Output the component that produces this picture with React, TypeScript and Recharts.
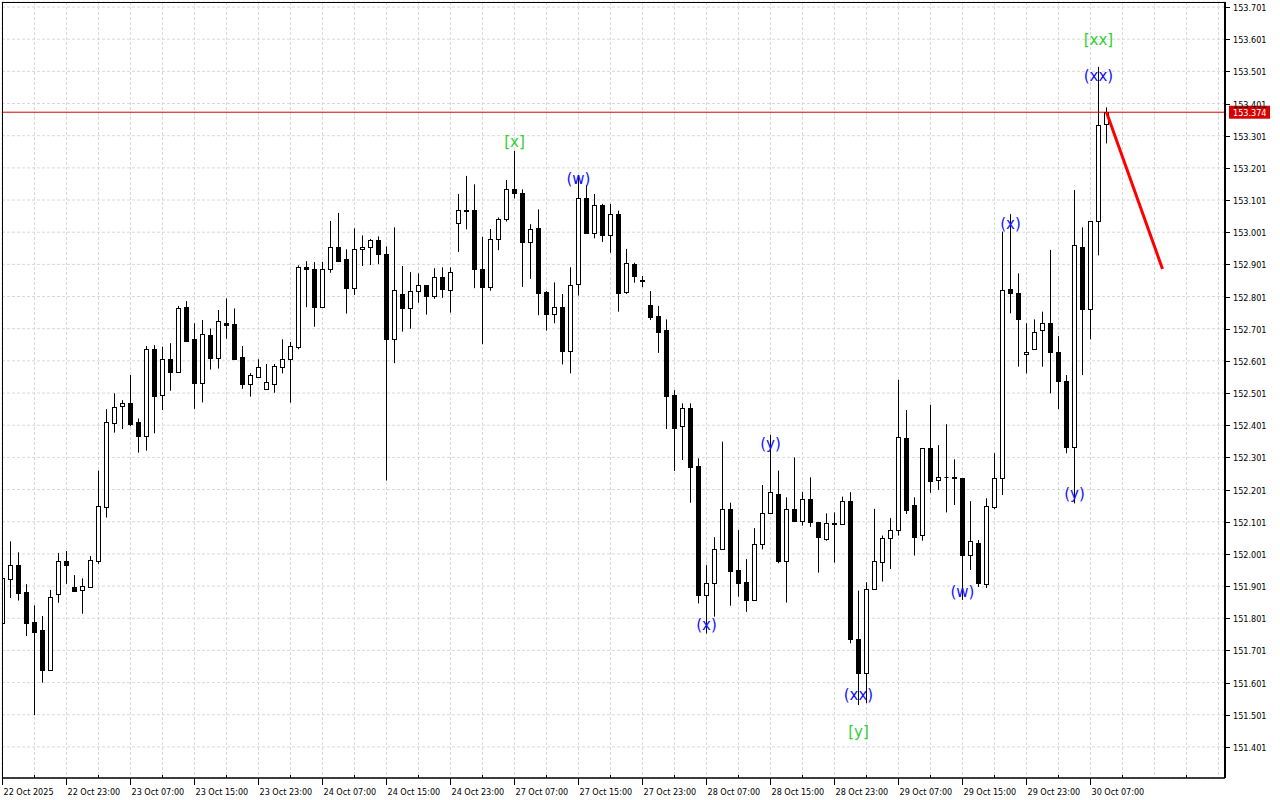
import {
  Bar,
  CartesianGrid,
  ComposedChart,
  ReferenceDot,
  ReferenceLine,
  XAxis,
  YAxis,
} from "recharts";

// H1 candles, 22 Oct 15:00 .. 30 Oct 09:00
const opens = [
  151.785, 151.922, 151.966, 151.882, 151.788, 151.764, 151.639, 151.875, 151.978, 151.898,
  151.888, 151.898, 151.98, 152.148, 152.409, 152.46, 152.47, 152.41, 152.368, 152.638,
  152.494, 152.606, 152.567, 152.767, 152.668, 152.531, 152.681, 152.609, 152.718, 152.715,
  152.613, 152.528, 152.552, 152.513, 152.528, 152.581, 152.606, 152.645, 152.892, 152.886,
  152.768, 152.886, 152.954, 152.917, 152.827, 152.948, 152.954, 152.976, 152.932, 152.668,
  152.808, 152.764, 152.817, 152.836, 152.804, 152.861, 152.82, 153.029, 153.069, 153.069,
  152.887, 152.831, 152.979, 153.041, 153.134, 153.123, 152.971, 153.013, 152.814, 152.746,
  152.768, 152.633, 152.839, 153.106, 152.999, 153.085, 152.991, 153.057, 152.816, 152.901,
  152.85, 152.775, 152.741, 152.697, 152.495, 152.399, 152.454, 152.274, 151.873, 151.91,
  152.015, 152.14, 151.951, 151.913, 151.859, 152.031, 152.127, 152.186, 151.98, 152.14,
  152.104, 152.171, 152.099, 152.047, 152.096, 152.093, 152.164, 151.736, 151.63, 151.891,
  151.975, 152.05, 152.074, 152.36, 152.153, 152.059, 152.329, 152.23, 152.239, 152.24,
  152.236, 151.997, 152.035, 151.907, 152.146, 152.236, 152.823, 152.811, 152.622, 152.637,
  152.697, 152.72, 152.63, 152.538, 152.334, 152.954, 152.761, 153.035, 153.337,
];
const highs = [
  151.951, 152.04, 152.006, 151.907, 151.841, 151.808, 151.889, 152.004, 152.01, 151.935,
  151.925, 151.994, 152.26, 152.451, 152.5, 152.479, 152.557, 152.422, 152.647, 152.65,
  152.645, 152.656, 152.772, 152.787, 152.718, 152.728, 152.702, 152.759, 152.795, 152.764,
  152.647, 152.563, 152.606, 152.591, 152.591, 152.668, 152.66, 152.898, 152.911, 152.908,
  152.909, 153.036, 153.061, 152.948, 153.013, 152.991, 152.98, 152.988, 152.957, 153.016,
  152.896, 152.877, 152.873, 152.837, 152.889, 152.892, 152.892, 153.12, 153.176, 153.15,
  152.987, 153.011, 153.047, 153.163, 153.254, 153.134, 153.026, 153.072, 152.818, 152.845,
  152.809, 152.892, 153.174, 153.148, 153.12, 153.089, 153.089, 153.068, 152.949, 152.906,
  152.865, 152.818, 152.772, 152.73, 152.51, 152.469, 152.469, 152.298, 151.966, 152.053,
  152.35, 152.16, 152.075, 151.985, 152.081, 152.215, 152.371, 152.26, 152.177, 152.301,
  152.194, 152.239, 152.1, 152.127, 152.13, 152.179, 152.193, 151.887, 151.913, 152.141,
  152.058, 152.112, 152.542, 152.448, 152.177, 152.33, 152.464, 152.339, 152.404, 152.295,
  152.237, 152.165, 152.044, 152.174, 152.314, 153.003, 153.057, 152.873, 152.718, 152.73,
  152.754, 152.946, 152.678, 152.557, 153.132, 153.016, 153.036, 153.515, 153.389,
];
const lows = [
  151.771, 151.864, 151.856, 151.746, 151.5, 151.601, 151.638, 151.849, 151.908, 151.884,
  151.815, 151.897, 151.97, 152.114, 152.378, 152.389, 152.398, 152.316, 152.322, 152.376,
  152.448, 152.508, 152.564, 152.661, 152.452, 152.472, 152.574, 152.577, 152.67, 152.607,
  152.514, 152.49, 152.551, 152.512, 152.502, 152.562, 152.471, 152.637, 152.768, 152.707,
  152.767, 152.875, 152.911, 152.748, 152.806, 152.896, 152.899, 152.902, 152.229, 152.594,
  152.692, 152.701, 152.782, 152.745, 152.794, 152.797, 152.751, 152.94, 153.01, 152.827,
  152.653, 152.819, 152.945, 153.034, 153.106, 152.831, 152.856, 152.743, 152.695, 152.718,
  152.59, 152.562, 152.804, 152.997, 152.982, 152.971, 152.937, 152.754, 152.809, 152.844,
  152.83, 152.728, 152.626, 152.389, 152.259, 152.293, 152.16, 151.847, 151.754, 151.806,
  152.014, 151.84, 151.868, 151.821, 151.856, 152.015, 152.126, 151.972, 151.85, 152.103,
  152.089, 152.085, 151.943, 152.042, 151.974, 152.092, 151.723, 151.531, 151.537, 151.889,
  151.915, 151.954, 152.058, 152.125, 151.996, 152.042, 152.191, 152.2, 152.13, 152.153,
  151.858, 151.951, 151.898, 151.895, 152.14, 152.184, 152.749, 152.583, 152.562, 152.636,
  152.583, 152.5, 152.451, 152.314, 152.158, 152.557, 152.668, 152.929, 153.277,
];
const closes = [
  151.925, 151.966, 151.88, 151.787, 151.759, 151.641, 151.866, 151.978, 151.967, 151.886,
  151.9, 151.981, 152.149, 152.41, 152.457, 152.47, 152.404, 152.368, 152.638, 152.493,
  152.606, 152.567, 152.764, 152.664, 152.531, 152.684, 152.611, 152.724, 152.714, 152.608,
  152.528, 152.556, 152.581, 152.534, 152.585, 152.606, 152.647, 152.892, 152.886, 152.768,
  152.886, 152.954, 152.912, 152.828, 152.948, 152.954, 152.976, 152.932, 152.67, 152.82,
  152.764, 152.817, 152.836, 152.804, 152.861, 152.823, 152.876, 153.069, 153.066, 152.886,
  152.83, 152.979, 153.041, 153.134, 153.124, 152.971, 153.01, 152.813, 152.746, 152.768,
  152.633, 152.836, 153.106, 152.999, 153.085, 152.991, 153.057, 152.813, 152.904, 152.866,
  152.851, 152.738, 152.692, 152.493, 152.393, 152.454, 152.272, 151.873, 151.91, 152.015,
  152.14, 151.949, 151.911, 151.859, 152.031, 152.127, 152.192, 151.98, 152.14, 152.104,
  152.171, 152.099, 152.053, 152.096, 152.094, 152.164, 151.736, 151.63, 151.891, 151.978,
  152.05, 152.074, 152.363, 152.137, 152.054, 152.329, 152.229, 152.239, 152.24, 152.236,
  151.997, 152.041, 151.91, 152.15, 152.236, 152.821, 152.811, 152.73, 152.63, 152.692,
  152.72, 152.63, 152.539, 152.334, 152.961, 152.761, 153.035, 153.333, 153.374,
];

// one label every 8 bars
const timeLabels = [
  "22 Oct 2025", "22 Oct 23:00", "23 Oct 07:00", "23 Oct 15:00", "23 Oct 23:00", "24 Oct 07:00",
  "24 Oct 15:00", "24 Oct 23:00", "27 Oct 07:00", "27 Oct 15:00", "27 Oct 23:00", "28 Oct 07:00",
  "28 Oct 15:00", "28 Oct 23:00", "29 Oct 07:00", "29 Oct 15:00", "29 Oct 23:00", "30 Oct 07:00",
];
const priceTicks = [
  151.401, 151.501, 151.601, 151.701, 151.801, 151.901, 152.001, 152.101, 152.201, 152.301,
  152.401, 152.501, 152.601, 152.701, 152.801, 152.901, 153.001, 153.101, 153.201, 153.301,
  153.401, 153.501, 153.601, 153.701,
];

const GREEN = "#32cd32";
const BLUE = "#1010ff";
const waveLabels = [
  { i: 64, p: 153.281, text: "[x]", color: GREEN },
  { i: 72, p: 153.166, text: "(w)", color: BLUE },
  { i: 88, p: 151.78, text: "(x)", color: BLUE },
  { i: 96, p: 152.343, text: "(y)", color: BLUE },
  { i: 107, p: 151.562, text: "(xx)", color: BLUE },
  { i: 107, p: 151.447, text: "[y]", color: GREEN },
  { i: 120, p: 151.883, text: "(w)", color: BLUE },
  { i: 126, p: 153.026, text: "(x)", color: BLUE },
  { i: 134, p: 152.187, text: "(y)", color: BLUE },
  { i: 137, p: 153.487, text: "(xx)", color: BLUE },
  { i: 137, p: 153.598, text: "[xx]", color: GREEN },
];

const bidPrice = 153.374;
const forecastIdx = [138, 145];
const forecastPrice = [153.374, 152.887];

const candles = opens.map((o, i) => ({
  i,
  o,
  h: highs[i],
  l: lows[i],
  c: closes[i],
  range: [lows[i], highs[i]],
}));

const xTicks = Array.from({ length: 39 }, (_, k) => k * 4);
const AXIS_FONT = "'DejaVu Sans Condensed', 'DejaVu Sans', sans-serif";

function Candle(props: any) {
  const { x, y, width, height, payload } = props;
  if (!payload || height == null) return null;
  const { o, h, l, c } = payload;
  const cx = Math.floor(x + width / 2) + 0.5;
  const yOf = (p: number) => y + ((h - p) / (h - l)) * height;
  const top = Math.round(yOf(Math.max(o, c))) + 0.5;
  const bot = Math.round(yOf(Math.min(o, c))) + 0.5;
  const bull = c >= o;
  return (
    <g>
      <line x1={cx} x2={cx} y1={yOf(h)} y2={yOf(l)} stroke="#000" strokeWidth={1} />
      {bot - top < 1 ? (
        <line x1={cx - 2} x2={cx + 2} y1={top} y2={top} stroke="#000" strokeWidth={1} />
      ) : (
        <rect
          x={cx - 2}
          y={top}
          width={4}
          height={bot - top}
          fill={bull ? "#fff" : "#000"}
          stroke="#000"
          strokeWidth={1}
        />
      )}
    </g>
  );
}

function TimeTick({ x, y, payload }: any) {
  const v = payload.value as number;
  const px = Math.floor(x) + 0.5;
  if (v % 8 !== 0) {
    return <line x1={px} x2={px} y1={y - 3} y2={y} stroke="#000" />;
  }
  const label = timeLabels[v / 8];
  if (!label) return null;
  return (
    <g>
      <line x1={px} x2={px} y1={y} y2={y + 7} stroke="#000" />
      <text x={px + 1} y={y + 17} fontSize={9} fontFamily={AXIS_FONT} fill="#000" textAnchor="start">
        {label}
      </text>
    </g>
  );
}

function PriceTick({ x, y, payload }: any) {
  const py = Math.round(y) + 0.5;
  return (
    <g>
      <line x1={x + 1} x2={x + 5} y1={py} y2={py} stroke="#000" />
      <text x={x + 8} y={py} dy={3.5} fontSize={9} fontFamily={AXIS_FONT} fill="#000">
        {(payload.value as number).toFixed(3)}
      </text>
    </g>
  );
}

function BidLabel({ viewBox }: any) {
  if (!viewBox) return null;
  const x = viewBox.x + viewBox.width + 4;
  const y = viewBox.y;
  return (
    <g>
      <rect x={x} y={y - 6.5} width={41} height={13} fill="#d60000" />
      <text x={x + 4} y={y} dy={3.5} fontSize={9} fontFamily={AXIS_FONT} fill="#fff">
        {bidPrice.toFixed(3)}
      </text>
    </g>
  );
}

function WaveText(props: any) {
  const { cx, cy, text, color } = props;
  return (
    <text
      x={cx}
      y={cy}
      textAnchor="middle"
      dominantBaseline="central"
      fontSize={15}
      fontFamily="'DejaVu Sans', sans-serif"
      fill={color}
    >
      {text}
    </text>
  );
}

export default function App() {
  return (
    <div style={{ position: "relative", width: 1280, height: 800, background: "#fff" }}>
      <style>{"body{margin:0;background:#fff}"}</style>
      <ComposedChart width={1280} height={800} data={candles} margin={{ top: 2, right: 0, bottom: 0, left: 2 }}>
        <CartesianGrid stroke="#d9d9d9" strokeDasharray="3 2" />
        <XAxis
          dataKey="i"
          type="number"
          domain={[-0.0625, 152.8125]}
          allowDataOverflow
          ticks={xTicks}
          interval={0}
          height={22}
          tickSize={0}
          tickMargin={0}
          tickLine={false}
          axisLine={{ stroke: "#000", strokeWidth: 1.5 }}
          tick={<TimeTick />}
        />
        <YAxis
          orientation="right"
          type="number"
          domain={[151.3044, 153.7166]}
          allowDataOverflow
          ticks={priceTicks}
          interval={0}
          width={55}
          tickSize={0}
          tickMargin={0}
          tickLine={false}
          axisLine={{ stroke: "#000", strokeWidth: 2 }}
          tick={<PriceTick />}
        />
        <Bar dataKey="range" barSize={5} shape={<Candle />} isAnimationActive={false} />
        <ReferenceLine y={bidPrice} stroke="#d60000" strokeWidth={1} label={<BidLabel />} />
        <ReferenceLine
          segment={[
            { x: forecastIdx[0], y: forecastPrice[0] },
            { x: forecastIdx[1], y: forecastPrice[1] },
          ]}
          stroke="#ff0000"
          strokeWidth={3}
        />
        {waveLabels.map((w, k) => (
          <ReferenceDot
            key={k}
            x={w.i}
            y={w.p}
            r={0}
            shape={(p: any) => <WaveText {...p} text={w.text} color={w.color} />}
          />
        ))}
      </ComposedChart>
      <div
        style={{
          position: "absolute",
          left: 2,
          top: 2,
          width: 1223,
          height: 776,
          borderLeft: "1px solid #000",
          borderTop: "1px solid #000",
          boxSizing: "border-box",
          pointerEvents: "none",
        }}
      />
    </div>
  );
}
